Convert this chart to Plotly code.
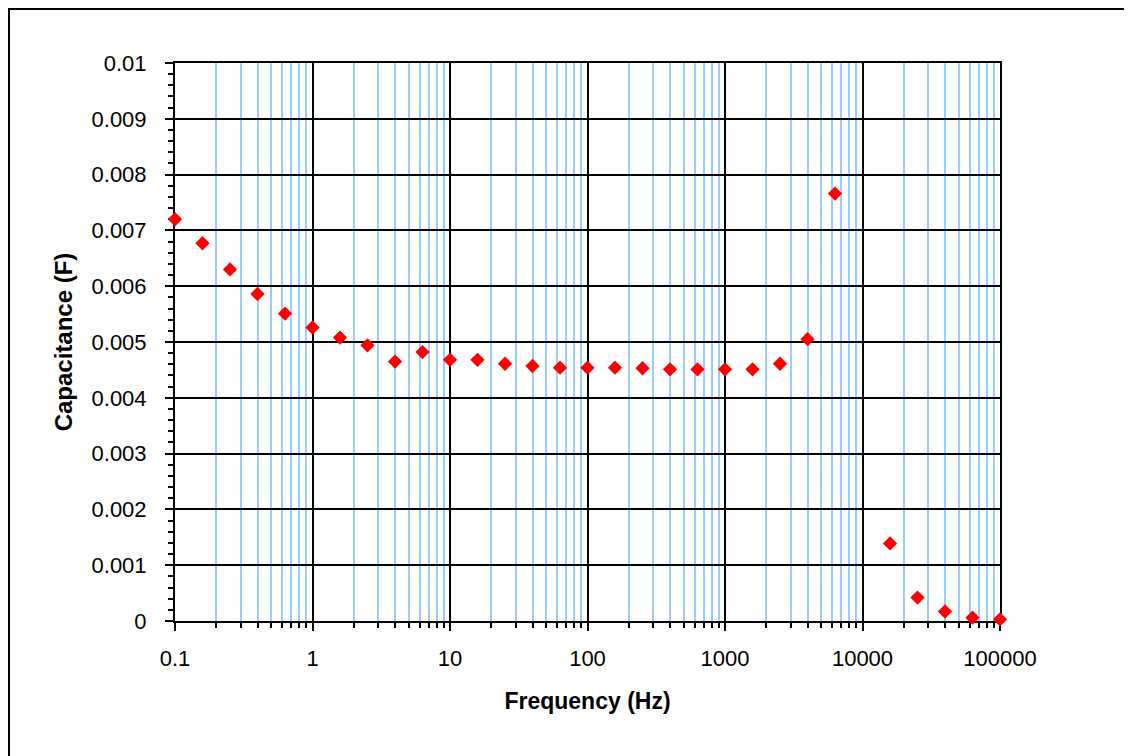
import plotly.graph_objects as go

# Data
frequency_hz = [0.1, 0.1585, 0.2512, 0.3981, 0.631, 1, 1.585, 2.512, 3.981, 6.31,
                10, 15.85, 25.12, 39.81, 63.1, 100, 158.5, 251.2, 398.1, 631,
                1000, 1585, 2512, 3981, 6310, 15849, 25119, 39811, 63096, 100000]
capacitance_f = [0.00720, 0.00677, 0.00630, 0.00586, 0.00551, 0.00526, 0.00508, 0.00494, 0.00465, 0.00482,
                 0.00468, 0.00468, 0.00461, 0.00457, 0.00454, 0.00454, 0.00454, 0.00453, 0.00451, 0.00451,
                 0.00451, 0.00451, 0.00461, 0.00505, 0.00766, 0.00139, 0.00042, 0.00017, 0.00006, 0.00003]

x_tickvals = [0.1, 1, 10, 100, 1000, 10000, 100000]
x_ticktext = ["0.1", "1", "10", "100", "1000", "10000", "100000"]
x_minor_vals = [m * 10 ** e for e in range(-1, 5) for m in range(2, 10)]

y_tickvals = [0, 0.001, 0.002, 0.003, 0.004, 0.005, 0.006, 0.007, 0.008, 0.009, 0.01]
y_ticktext = ["0", "0.001", "0.002", "0.003", "0.004", "0.005", "0.006", "0.007", "0.008", "0.009", "0.01"]

FONT = "Arial, Liberation Sans, sans-serif"

fig = go.Figure()
fig.add_trace(go.Scatter(
    x=frequency_hz, y=capacitance_f, mode="markers",
    marker=dict(symbol="diamond", size=11, color="#FF0000", line=dict(width=0)),
    cliponaxis=False, showlegend=False,
))

W, H = 1132, 756
L, R, T, B = 167, 140, 55, 143
pw, ph = W - L - R, H - T - B

fig.update_layout(
    width=W, height=H,
    margin=dict(l=L, r=R, t=T, b=B, pad=0),
    paper_bgcolor="white", plot_bgcolor="white",
    font=dict(family=FONT, size=22, color="black"),
    xaxis=dict(
        type="log", range=[-1, 5],
        tickmode="array", tickvals=x_tickvals, ticktext=x_ticktext,
        showgrid=True, gridcolor="black", gridwidth=1.5,
        ticks="outside", ticklen=8, tickwidth=2, tickcolor="black",
        showline=True, linecolor="black", linewidth=2, mirror=True,
        minor=dict(tickmode="array", tickvals=x_minor_vals, ticks="outside", ticklen=5,
                   tickwidth=2, tickcolor="black", showgrid=True, gridcolor="#99CCFF", gridwidth=1.5),
        zeroline=False, layer="below traces",
        ticklabelstandoff=9,
        title=dict(text="<b>Frequency (Hz)</b>", font=dict(size=23), standoff=22),
    ),
    yaxis=dict(
        range=[0, 0.01],
        tickmode="array", tickvals=y_tickvals, ticktext=y_ticktext,
        showgrid=True, gridcolor="black", gridwidth=1.5,
        ticks="outside", ticklen=8, tickwidth=2, tickcolor="black",
        showline=True, linecolor="black", linewidth=2, mirror=True,
        minor=dict(dtick=0.0002, ticks="outside", ticklen=5, tickwidth=2, tickcolor="black",
                   showgrid=False),
        zeroline=False, layer="below traces",
        ticklabelstandoff=14,
        title=dict(text="<b>Capacitance (F)</b>", font=dict(size=24), standoff=12),
    ),
)

# outer chart-area border along the figure edge
fig.add_shape(type="rect", xref="paper", yref="paper",
              x0=(1 - L) / pw, x1=(W - 1 - L) / pw,
              y0=-(B - 1) / ph, y1=(H - B - 1) / ph,
              line=dict(color="black", width=2), fillcolor="rgba(0,0,0,0)", layer="above")

fig.write_html("out.html")
